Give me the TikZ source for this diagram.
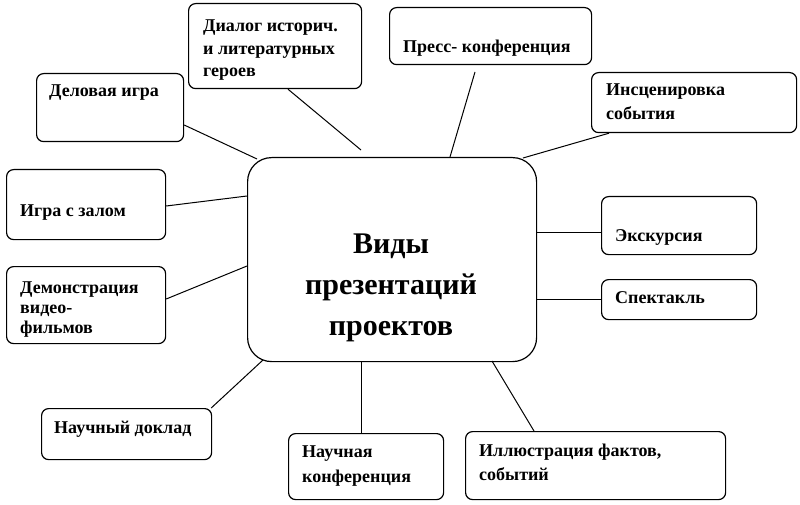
\documentclass[tikz,border=0pt]{standalone}
\usepackage{fontspec}
\setmainfont{Liberation Serif}
\begin{document}
\begin{tikzpicture}[x=1pt,y=-1pt,
  box/.style={draw, line width=1.2pt, rounded corners=7pt, anchor=north west, inner sep=0pt},
  link/.style={line width=1pt},
  lbl/.style={anchor=base west, inner sep=0pt, font=\bfseries\fontsize{18}{#1}\selectfont},
  lbl/.default=22.5]
\useasboundingbox (0,0) rectangle (800,505);
% boxes
\node[box, minimum width=289pt, minimum height=204pt, rounded corners=24pt] (main) at (247,157) {};
\node[box, minimum width=173pt, minimum height=85pt] (dialog) at (188,3) {};
\node[box, minimum width=202pt, minimum height=57pt] (press) at (389,7) {};
\node[box, minimum width=147pt, minimum height=68pt] (delo) at (36,73) {};
\node[box, minimum width=205pt, minimum height=60pt] (inscen) at (591,72) {};
\node[box, minimum width=159pt, minimum height=70pt] (igra) at (6,169) {};
\node[box, minimum width=155pt, minimum height=58pt] (eksk) at (601,196) {};
\node[box, minimum width=159pt, minimum height=77pt] (demo) at (6,266) {};
\node[box, minimum width=155pt, minimum height=40pt] (spekt) at (601,279) {};
\node[box, minimum width=170pt, minimum height=51pt] (doklad) at (41,408) {};
\node[box, minimum width=155pt, minimum height=66pt] (konf) at (288,433) {};
\node[box, minimum width=260pt, minimum height=68pt] (illus) at (465,431) {};
% texts
\node[anchor=base, inner sep=0pt, font=\bfseries\fontsize{30}{41}\selectfont] (title) at (391,253)
  {\begin{tabular}[t]{@{}c@{}}Виды\\презентаций\\проектов\end{tabular}};
\node[lbl=22.5] (tdialog) at (203,32) {\begin{tabular}[t]{@{}l@{}}Диалог историч.\\и литературных\\героев\end{tabular}};
\node[lbl] (tpress) at (403,53) {Пресс- конференция};
\node[lbl] (tdelo) at (49,97) {Деловая игра};
\node[lbl=24] (tinscen) at (606,96) {\begin{tabular}[t]{@{}l@{}}Инсценировка\\события\end{tabular}};
\node[lbl] (tigra) at (20,216) {Игра с залом};
\node[lbl] (teksk) at (615,241) {Экскурсия};
\node[lbl=20] (tdemo) at (20,293) {\begin{tabular}[t]{@{}l@{}}Демонстрация\\видео-\\фильмов\end{tabular}};
\node[lbl] (tspekt) at (615,303) {Спектакль};
\node[lbl] (tdoklad) at (54,433) {Научный доклад};
\node[lbl=25] (tkonf) at (302,457) {\begin{tabular}[t]{@{}l@{}}Научная\\конференция\end{tabular}};
\node[lbl=24.5] (tillus) at (479,456) {\begin{tabular}[t]{@{}l@{}}Иллюстрация фактов,\\событий\end{tabular}};
% free ends and points on the rounded border
\coordinate (dialogtip) at (361,150);
\coordinate (presstip) at (475,72);
\coordinate (mDelo) at (257,159);
\coordinate (mInscen) at (523,158);
\coordinate (mDoklad) at (263,360);
\coordinate (mIllus) at (492,361);
% connectors
\draw[link] (dialog.south -| 288,0) -- (dialogtip);
\draw[link] (presstip) -- (main.north -| 450,0);
\draw[link] (delo.east |- 0,125) -- (mDelo);
\draw[link] (inscen.south -| 609,0) -- (mInscen);
\draw[link] (igra.east |- 0,206) -- (main.west |- 0,196);
\draw[link] (demo.east |- 0,299) -- (main.west |- 0,266);
\draw[link] (main.east |- 0,232) -- (eksk.west |- 0,232);
\draw[link] (main.east |- 0,299) -- (spekt.west |- 0,299);
\draw[link] (doklad.north east) ++(-1,0) -- (mDoklad);
\draw[link] (main.south -| 361,0) -- (konf.north -| 361,0);
\draw[link] (mIllus) -- (illus.north -| 534,0);
\end{tikzpicture}
\end{document}
